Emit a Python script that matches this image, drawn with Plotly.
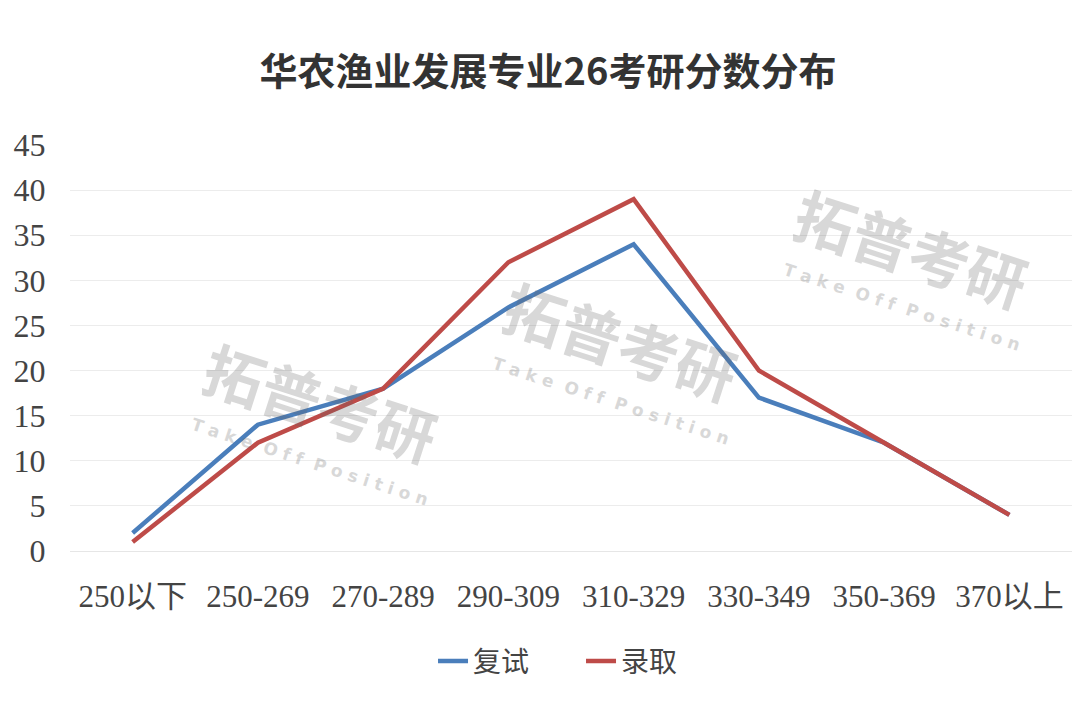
import plotly.graph_objects as go

categories = ["250以下", "250-269", "270-289", "290-309", "310-329", "330-349", "350-369", "370以上"]
retest = [2, 14, 18, 27, 34, 17, 12, 4]
admitted = [1, 12, 18, 32, 39, 20, 12, 4]
y_ticks = [0, 5, 10, 15, 20, 25, 30, 35, 40, 45]

serif = "Liberation Serif, Noto Sans CJK SC, serif"

fig = go.Figure()
fig.add_trace(go.Scatter(
    x=categories, y=retest, name="复试", mode="lines",
    line=dict(color="#4a7ebb", width=4.5),
))
fig.add_trace(go.Scatter(
    x=categories, y=admitted, name="录取", mode="lines",
    line=dict(color="#be4b48", width=4.5),
))

# faint watermark, as in the source picture
for wx, wy in [(0.25, 0.37), (0.55, 0.52), (0.84, 0.75)]:
    fig.add_annotation(
        xref="paper", yref="paper", x=wx, y=wy, text="<b>拓普考研</b>",
        xanchor="center", yanchor="middle",
        showarrow=False, textangle=18, opacity=0.25,
        font=dict(family="Noto Sans CJK SC", size=60, color="#666666"),
    )
    fig.add_annotation(
        xref="paper", yref="paper", x=wx - 0.01, y=wy - 0.15,
        xanchor="center", yanchor="middle",
        text="<b>T a k e  O f f  P o s i t i o n</b>",
        showarrow=False, textangle=18, opacity=0.25,
        font=dict(family="DejaVu Sans", size=17, color="#666666"),
    )

fig.update_layout(
    width=1080, height=705,
    paper_bgcolor="white", plot_bgcolor="white",
    margin=dict(l=62, r=16, t=137, b=162, autoexpand=False),
    title=dict(
        text="<b>华农渔业发展专业26考研分数分布</b>",
        x=0.5, xanchor="center", y=0.909, yanchor="middle",
        font=dict(family="Noto Sans CJK SC", size=38, color="#333333"),
    ),
    legend=dict(
        orientation="h", x=0.51, xanchor="center", y=-0.21, yanchor="top",
        font=dict(family="Noto Sans CJK SC, serif", size=28, color="#444444"),
        itemwidth=30, entrywidth=103, entrywidthmode="pixels",
    ),
    showlegend=True,
)
fig.update_xaxes(
    automargin=False,
    showgrid=False, showline=True, linecolor="#e6e6e6", linewidth=1,
    tickfont=dict(family=serif, size=31, color="#444444"),
    ticks="outside", ticklen=18, tickcolor="white",
    range=[-0.5, len(categories) - 0.5],
)
fig.update_yaxes(
    automargin=False,
    range=[0, 45], tickvals=y_ticks, gridcolor="#ececec", gridwidth=1,
    zeroline=False, showline=False,
    tickfont=dict(family=serif, size=32, color="#444444"),
    ticks="outside", ticklen=17, tickcolor="white",
)

fig.write_html("out.html")
